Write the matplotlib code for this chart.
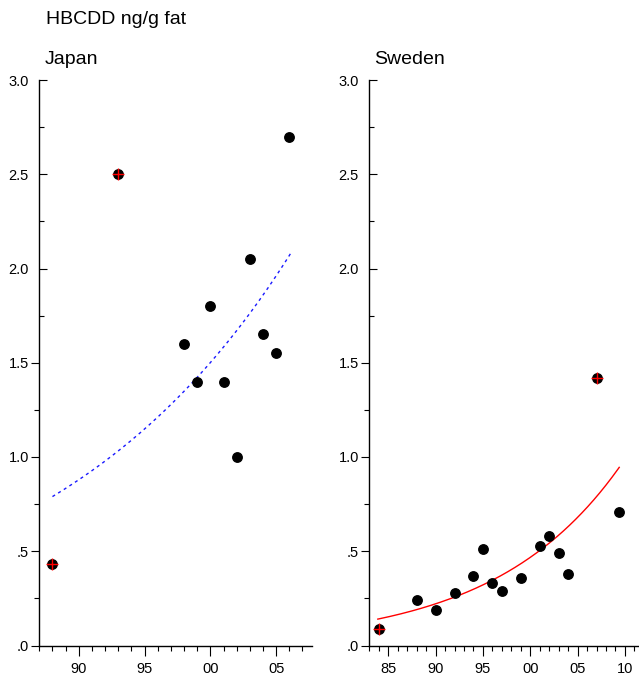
import numpy as np
import matplotlib
matplotlib.use("Agg")
import matplotlib.pyplot as plt
from matplotlib.ticker import MultipleLocator, FixedLocator, FuncFormatter, NullFormatter

plt.rcParams['font.family'] = ['Liberation Sans', 'DejaVu Sans']

# Japan data (year as 19xx offset: 100 = 2000)
japan_years = [88, 93, 98, 99, 100, 101, 102, 103, 104, 105, 106]
japan_vals = [0.43, 2.50, 1.60, 1.40, 1.80, 1.40, 1.00, 2.05, 1.65, 1.55, 2.70]
japan_outliers_years = [88, 93]
japan_outliers_vals = [0.43, 2.50]
japan_fit_years = [88, 106.1]
japan_fit_vals = [0.79, 2.08]

# Sweden data
sweden_years = [84, 88, 90, 92, 94, 95, 96, 97, 99, 101, 102, 103, 104, 107, 109.4]
sweden_vals = [0.09, 0.24, 0.19, 0.28, 0.37, 0.51, 0.33, 0.29, 0.36, 0.53, 0.58, 0.49, 0.38, 1.42, 0.71]
sweden_outliers_years = [84, 107]
sweden_outliers_vals = [0.09, 1.42]
sweden_fit_years = [83.9, 109.4]
sweden_fit_vals = [0.14, 0.945]

y_major_low = [0.0, 0.5, 1.0, 1.5]
y_major_high = [2.0, 2.5, 3.0]
y_minor_low = [0.25, 0.75, 1.25]
y_minor_high = [1.75, 2.25, 2.75]

W, H = 639, 678
fig = plt.figure(figsize=(W / 100, H / 100), dpi=100)

def px_rect(left, right, top, bottom):
    return [left / W, 1 - bottom / H, (right - left) / W, (bottom - top) / H]

def yfmt(v, pos):
    s = f"{v:.1f}"
    if s.startswith("0"):
        s = s[1:]
    return s

def xfmt(v, pos):
    return f"{int(round(v)) % 100:02d}"

LBL = 10.5

def make_panel(rect, xlim, label):
    ax = fig.add_axes(rect, label=label)
    ax.set_xlim(*xlim)
    ax.set_ylim(0, 3.0)
    for s in ['top', 'right']:
        ax.spines[s].set_visible(False)
    for s in ['left', 'bottom']:
        ax.spines[s].set_linewidth(1.0)
    ax.yaxis.set_major_locator(FixedLocator(y_major_low))
    ax.yaxis.set_minor_locator(FixedLocator(y_minor_low))
    ax.xaxis.set_major_locator(MultipleLocator(5))
    ax.xaxis.set_minor_locator(MultipleLocator(1))
    ax.yaxis.set_major_formatter(FuncFormatter(yfmt))
    ax.xaxis.set_major_formatter(FuncFormatter(xfmt))
    ax.tick_params(axis='y', which='major', direction='out', length=5.5, width=0.8, labelsize=LBL, pad=2)
    ax.tick_params(axis='y', which='minor', direction='out', length=3.6, width=0.8)
    ax.tick_params(axis='x', which='major', direction='out', length=7, width=0.8, labelsize=LBL, pad=5)
    ax.tick_params(axis='x', which='minor', direction='out', length=3.6, width=0.8)
    ax.patch.set_alpha(0)
    # overlay for upper ticks pointing inward
    ov = fig.add_axes(rect, label=label + "_ov")
    ov.set_xlim(*xlim)
    ov.set_ylim(0, 3.0)
    ov.patch.set_alpha(0)
    for s in ov.spines.values():
        s.set_visible(False)
    ov.xaxis.set_visible(False)
    ov.yaxis.set_major_locator(FixedLocator(y_major_high))
    ov.yaxis.set_minor_locator(FixedLocator(y_minor_high))
    ov.yaxis.set_major_formatter(FuncFormatter(yfmt))
    ov.yaxis.set_minor_formatter(NullFormatter())
    ov.tick_params(axis='y', which='major', direction='in', length=5.5, width=0.8, labelsize=LBL, pad=7.5)
    ov.tick_params(axis='y', which='minor', direction='in', length=3.6, width=0.8)
    ov.set_zorder(ax.get_zorder() - 1)
    return ax

def fit_curve(xs, ys):
    k = np.log(ys[1] / ys[0]) / (xs[1] - xs[0])
    t = np.linspace(xs[0], xs[1], 200)
    return t, ys[0] * np.exp(k * (t - xs[0]))

# Japan
ax1 = make_panel(px_rect(39.3, 311.7, 80, 645.5), (87.0, 107.7), "japan")
t, f = fit_curve(japan_fit_years, japan_fit_vals)
ax1.plot(t, f, color='#1a1aff', lw=1.0, ls=(0, (2.2, 2.6)), zorder=2)
ax1.plot(japan_years, japan_vals, 'o', color='black', ms=6.8, zorder=3, clip_on=False)
ax1.plot(japan_outliers_years, japan_outliers_vals, '+', color='red', ms=8, mew=1.0, zorder=4, clip_on=False)

# Sweden
ax2 = make_panel(px_rect(369.3, 641, 80, 645.5), (83.0, 111.7), "sweden")
t, f = fit_curve(sweden_fit_years, sweden_fit_vals)
ax2.plot(t, f, color='red', lw=1.0, zorder=2)
ax2.plot(sweden_years, sweden_vals, 'o', color='black', ms=6.8, zorder=3, clip_on=False)
ax2.plot(sweden_outliers_years, sweden_outliers_vals, '+', color='red', ms=8, mew=1.0, zorder=4, clip_on=False)

fig.text(46 / W, 1 - 20 / H, "HBCDD ng/g fat", fontsize=14, ha='left', va='center')
fig.text(45 / W, 1 - 59 / H, "Japan", fontsize=14, ha='left', va='center')
fig.text(374 / W, 1 - 59 / H, "Sweden", fontsize=14, ha='left', va='center')

fig.savefig("out.png", dpi=100)
